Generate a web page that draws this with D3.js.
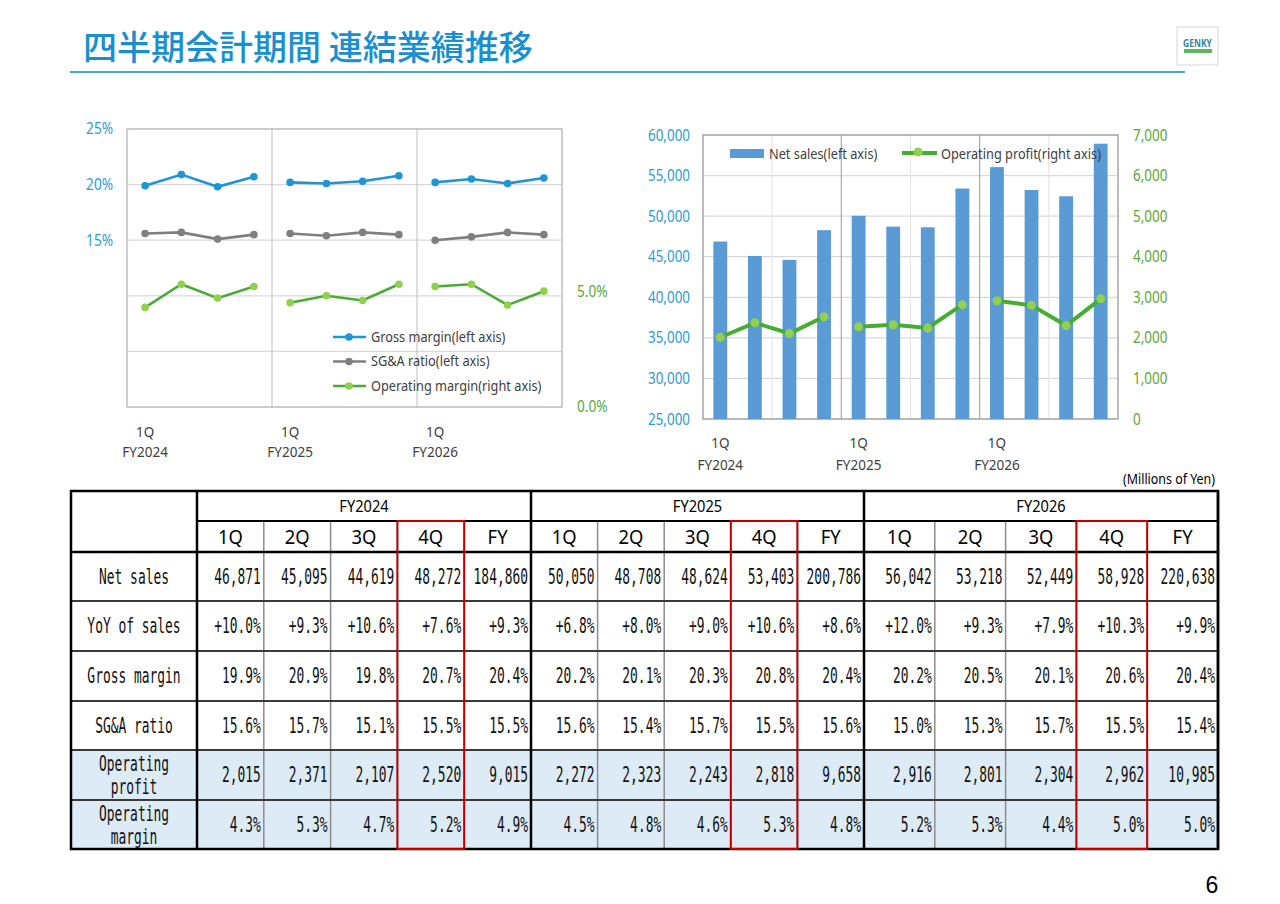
<!DOCTYPE html>
<html>
<head>
<meta charset="utf-8">
<script src="https://cdn.jsdelivr.net/npm/d3@7"></script>
<style>
  body { margin: 0; background: #fff; }
  svg { display: block; }
</style>
</head>
<body>
<div class="canvas"></div>
<script>
// ---- data ----
const quarters = ['1Q', '2Q', '3Q', '4Q'];
const fiscalYears = ['FY2024', 'FY2025', 'FY2026'];

const netSales   = [46871, 45095, 44619, 48272, 50050, 48708, 48624, 53403, 56042, 53218, 52449, 58928];
const netSalesFY = [184860, 200786, 220638];
const yoySales   = [10.0, 9.3, 10.6, 7.6, 6.8, 8.0, 9.0, 10.6, 12.0, 9.3, 7.9, 10.3];
const yoySalesFY = [9.3, 8.6, 9.9];
const grossMargin   = [19.9, 20.9, 19.8, 20.7, 20.2, 20.1, 20.3, 20.8, 20.2, 20.5, 20.1, 20.6];
const grossMarginFY = [20.4, 20.4, 20.4];
const sgaRatio   = [15.6, 15.7, 15.1, 15.5, 15.6, 15.4, 15.7, 15.5, 15.0, 15.3, 15.7, 15.5];
const sgaRatioFY = [15.5, 15.6, 15.4];
const opProfit   = [2015, 2371, 2107, 2520, 2272, 2323, 2243, 2818, 2916, 2801, 2304, 2962];
const opProfitFY = [9015, 9658, 10985];
const opMargin   = [4.3, 5.3, 4.7, 5.2, 4.5, 4.8, 4.6, 5.3, 5.2, 5.3, 4.4, 5.0];
const opMarginFY = [4.9, 4.8, 5.0];

const leftTicks = [15, 20, 25];
const rightTicks = [0, 5];
const salesTicks = [25000, 30000, 35000, 40000, 45000, 50000, 55000, 60000];
const profitTicks = [0, 1000, 2000, 3000, 4000, 5000, 6000, 7000];

const SANS = "'Noto Sans', sans-serif";
const MONO = "'DejaVu Sans Mono', 'Liberation Mono', monospace";
const blueTxt = '#2e9ad0', greenTxt = '#55a833';

// squeeze text horizontally around its own x (source font is a narrow one)
function condense(sel, k) {
  sel.each(function () {
    const t = d3.select(this);
    const x = +t.attr('x') || 0;
    t.attr('transform', `translate(${x * (1 - k)},0) scale(${k},1)`);
  });
}

const svg = d3.select('.canvas')
  .append('svg')
  .attr('width', 1280)
  .attr('height', 904);

// ---- title ----
svg.append('text')
  .attr('x', 83).attr('y', 60)
  .attr('font-family', "'Noto Sans CJK JP', sans-serif")
  .attr('font-size', 34).attr('font-weight', 500)
  .attr('fill', '#1a8fd0')
  .text('四半期会計期間 連結業績推移');

svg.append('line')
  .attr('x1', 70).attr('x2', 1185).attr('y1', 72).attr('y2', 72)
  .attr('stroke', '#4ba6c9').attr('stroke-width', 2);

// logo
const logo = svg.append('g');
logo.append('rect').attr('x', 1177).attr('y', 27).attr('width', 41).attr('height', 38)
  .attr('fill', '#fff').attr('stroke', '#d6d6d6');
logo.append('text').attr('x', 1197.5).attr('y', 47).attr('text-anchor', 'middle')
  .attr('font-family', SANS).attr('font-weight', 'bold').attr('font-size', 10)
  .attr('fill', '#2f86a8').text('GENKY').call(condense, 0.85);
logo.append('rect').attr('x', 1184).attr('y', 49).attr('width', 28).attr('height', 4)
  .attr('fill', '#5cb85c');

// ---- left chart : margins ----
const xL = d3.scaleBand().domain(d3.range(12)).range([127, 562]);
const cxL = i => xL(i) + xL.bandwidth() / 2;
const yL = d3.scaleLinear().domain([0, 25]).range([407, 129]);
const yR = d3.scaleLinear().domain([0, 12]).range([407, 129]);

const left = svg.append('g');

left.selectAll('.hgrid')
  .data(d3.range(0, 26, 5))
  .join('line')
  .attr('x1', 127).attr('x2', 562)
  .attr('y1', d => yL(d)).attr('y2', d => yL(d))
  .attr('stroke', '#d9d9d9').attr('stroke-width', 1.2);

left.selectAll('.vgrid')
  .data([4, 8])
  .join('line')
  .attr('x1', d => xL(d)).attr('x2', d => xL(d))
  .attr('y1', yL(25)).attr('y2', yL(0))
  .attr('stroke', '#c8c8c8').attr('stroke-width', 1.2);

left.append('rect')
  .attr('x', 127).attr('y', yL(25))
  .attr('width', 435).attr('height', yL(0) - yL(25))
  .attr('fill', 'none').attr('stroke', '#bfbfbf').attr('stroke-width', 1.5);

const axL = left.append('g')
  .attr('transform', 'translate(127,0)')
  .call(d3.axisLeft(yL).tickValues(leftTicks).tickSize(0).tickPadding(14).tickFormat(d => d + '%'));
const axR = left.append('g')
  .attr('transform', 'translate(562,0)')
  .call(d3.axisRight(yR).tickValues(rightTicks).tickSize(0).tickPadding(15).tickFormat(d => d.toFixed(1) + '%'));
axL.selectAll('text').attr('fill', blueTxt);
axR.selectAll('text').attr('fill', greenTxt);
[axL, axR].forEach(a => {
  a.select('.domain').remove();
  a.selectAll('text').attr('font-family', SANS).attr('font-size', 15.5).call(condense, 0.88);
});

left.selectAll('.q1')
  .data([0, 4, 8])
  .join('text')
  .attr('x', d => cxL(d)).attr('y', 437)
  .attr('text-anchor', 'middle')
  .attr('font-family', SANS).attr('font-size', 15).attr('fill', '#404040')
  .text('1Q').call(condense, 0.9);
left.selectAll('.fy')
  .data(fiscalYears)
  .join('text')
  .attr('x', (d, i) => cxL(i * 4)).attr('y', 457)
  .attr('text-anchor', 'middle')
  .attr('font-family', SANS).attr('font-size', 13.5).attr('fill', '#404040')
  .text(d => d);

const leftSeries = [
  {name: 'Gross margin(left axis)', values: grossMargin, y: yL, line: '#1f95d3', dot: '#1f95d3'},
  {name: 'SG&A ratio(left axis)', values: sgaRatio, y: yL, line: '#7f7f7f', dot: '#7f7f7f'},
  {name: 'Operating margin(right axis)', values: opMargin, y: yR, line: '#4aaa36', dot: '#8fd14f'}
];

leftSeries.forEach((s, k) => {
  const g = left.append('g');
  // lines are broken between fiscal years
  fiscalYears.forEach((fy, f) => {
    const pts = s.values.slice(f * 4, f * 4 + 4).map((v, q) => [cxL(f * 4 + q), s.y(v)]);
    g.append('path')
      .attr('d', d3.line()(pts))
      .attr('fill', 'none').attr('stroke', s.line).attr('stroke-width', 2.6);
  });
  g.selectAll('circle')
    .data(s.values)
    .join('circle')
    .attr('cx', (d, i) => cxL(i)).attr('cy', d => s.y(d))
    .attr('r', 3.8).attr('fill', s.dot);

  const ly = 337 + k * 24.5;
  g.append('line').attr('x1', 333).attr('x2', 366).attr('y1', ly).attr('y2', ly)
    .attr('stroke', s.line).attr('stroke-width', 2.6);
  g.append('circle').attr('cx', 349).attr('cy', ly).attr('r', 3.8).attr('fill', s.dot);
  g.append('text').attr('x', 371).attr('y', ly + 5)
    .attr('font-family', SANS).attr('font-size', 14.5).attr('fill', '#404040')
    .text(s.name).call(condense, 0.88);
});

// ---- right chart : net sales & operating profit ----
const xB = d3.scaleBand().domain(d3.range(12)).range([703, 1118]).paddingInner(0.6).paddingOuter(0.3);
const xC = d3.scaleBand().domain(d3.range(12)).range([703, 1118]);
const cxC = i => xC(i) + xC.bandwidth() / 2;
const yS = d3.scaleLinear().domain([25000, 60000]).range([419, 135]);
const yP = d3.scaleLinear().domain([0, 7000]).range([419, 135]);

const right = svg.append('g');

right.selectAll('.hgrid')
  .data(salesTicks)
  .join('line')
  .attr('x1', 703).attr('x2', 1118)
  .attr('y1', d => yS(d)).attr('y2', d => yS(d))
  .attr('stroke', '#d9d9d9').attr('stroke-width', 1.2);

right.selectAll('.vgrid')
  .data([2, 4, 6, 8, 10])
  .join('line')
  .attr('x1', d => xC(d)).attr('x2', d => xC(d))
  .attr('y1', 135).attr('y2', 419)
  .attr('stroke', d => d % 4 === 0 ? '#a9a9a9' : '#e6e6e6').attr('stroke-width', 1.2);

right.append('rect')
  .attr('x', 703).attr('y', 135).attr('width', 415).attr('height', 284)
  .attr('fill', 'none').attr('stroke', '#a6a6a6').attr('stroke-width', 1.5);

right.selectAll('.bar')
  .data(netSales)
  .join('rect')
  .attr('x', (d, i) => xB(i))
  .attr('width', xB.bandwidth())
  .attr('y', d => yS(d))
  .attr('height', d => yS(25000) - yS(d))
  .attr('fill', '#5b9bd5');

fiscalYears.forEach((fy, f) => {
  const pts = opProfit.slice(f * 4, f * 4 + 4).map((v, q) => [cxC(f * 4 + q), yP(v)]);
  right.append('path')
    .attr('d', d3.line()(pts))
    .attr('fill', 'none').attr('stroke', '#44ad32').attr('stroke-width', 4);
});
right.selectAll('.dot')
  .data(opProfit)
  .join('circle')
  .attr('cx', (d, i) => cxC(i)).attr('cy', d => yP(d))
  .attr('r', 4.5).attr('fill', '#92d050');

const axS = right.append('g')
  .attr('transform', 'translate(703,0)')
  .call(d3.axisLeft(yS).tickValues(salesTicks).tickSize(0).tickPadding(13).tickFormat(d3.format(',')));
const axP = right.append('g')
  .attr('transform', 'translate(1118,0)')
  .call(d3.axisRight(yP).tickValues(profitTicks).tickSize(0).tickPadding(15).tickFormat(d3.format(',')));
axS.selectAll('text').attr('fill', blueTxt);
axP.selectAll('text').attr('fill', greenTxt);
[axS, axP].forEach(a => {
  a.select('.domain').remove();
  a.selectAll('text').attr('font-family', SANS).attr('font-size', 16).call(condense, 0.84);
});

right.selectAll('.q1')
  .data([0, 4, 8])
  .join('text')
  .attr('x', d => cxC(d)).attr('y', 448)
  .attr('text-anchor', 'middle')
  .attr('font-family', SANS).attr('font-size', 15).attr('fill', '#404040')
  .text('1Q').call(condense, 0.9);
right.selectAll('.fy')
  .data(fiscalYears)
  .join('text')
  .attr('x', (d, i) => cxC(i * 4)).attr('y', 470)
  .attr('text-anchor', 'middle')
  .attr('font-family', SANS).attr('font-size', 13.5).attr('fill', '#404040')
  .text(d => d);

// legend
right.append('rect').attr('x', 730).attr('y', 149).attr('width', 34).attr('height', 9).attr('fill', '#5b9bd5');
right.append('text').attr('x', 769).attr('y', 159)
  .attr('font-family', SANS).attr('font-size', 14.5).attr('fill', '#404040')
  .text('Net sales(left axis)').call(condense, 0.88);
right.append('line').attr('x1', 902).attr('x2', 937).attr('y1', 153).attr('y2', 153)
  .attr('stroke', '#44ad32').attr('stroke-width', 4);
right.append('circle').attr('cx', 918).attr('cy', 152).attr('r', 4.5).attr('fill', '#92d050');
right.append('text').attr('x', 941).attr('y', 159)
  .attr('font-family', SANS).attr('font-size', 14.5).attr('fill', '#404040')
  .text('Operating profit(right axis)').call(condense, 0.88);

svg.append('text').attr('x', 1215).attr('y', 484).attr('text-anchor', 'end')
  .attr('font-family', SANS).attr('font-size', 13.5).attr('fill', '#000')
  .text('(Millions of Yen)').call(condense, 0.92);

// ---- table ----
const pct = d => d.toFixed(1) + '%';
const tableRows = [
  {label: ['Net sales'], q: netSales, fy: netSalesFY, fmt: d3.format(',')},
  {label: ['YoY of sales'], q: yoySales, fy: yoySalesFY, fmt: d => '+' + pct(d)},
  {label: ['Gross margin'], q: grossMargin, fy: grossMarginFY, fmt: pct},
  {label: ['SG&A ratio'], q: sgaRatio, fy: sgaRatioFY, fmt: pct},
  {label: ['Operating', 'profit'], q: opProfit, fy: opProfitFY, fmt: d3.format(',')},
  {label: ['Operating', 'margin'], q: opMargin, fy: opMarginFY, fmt: pct}
];

const tLeft = 71, tLabel = 197, tRight = 1218;
const groupEdges = [197, 531, 864, 1218];
const colEdges = [];
groupEdges.slice(0, 3).forEach((g0, f) => {
  const w = (groupEdges[f + 1] - g0) / 5;
  for (let c = 0; c < 5; c++) colEdges.push([g0 + c * w, g0 + (c + 1) * w]);
});
const rowEdges = [491, 521, 552, 601, 651, 701, 750, 800, 849];

const table = svg.append('g');

// shaded rows
table.append('rect')
  .attr('x', tLeft).attr('y', rowEdges[6])
  .attr('width', tRight - tLeft).attr('height', rowEdges[8] - rowEdges[6])
  .attr('fill', '#ddebf7');

function monoText(x, y, str, anchor) {
  table.append('text')
    .attr('transform', `translate(${x},${y}) scale(0.63,1)`)
    .attr('text-anchor', anchor)
    .attr('font-family', MONO).attr('font-size', 20.5).attr('fill', '#111')
    .text(str);
}

// header
fiscalYears.forEach((fy, f) => {
  table.append('text')
    .attr('x', (groupEdges[f] + groupEdges[f + 1]) / 2).attr('y', 512)
    .attr('text-anchor', 'middle')
    .attr('font-family', SANS).attr('font-size', 17).text(fy).call(condense, 0.86);
  quarters.concat(['FY']).forEach((q, c) => {
    const e = colEdges[f * 5 + c];
    table.append('text')
      .attr('x', (e[0] + e[1]) / 2).attr('y', 544)
      .attr('text-anchor', 'middle')
      .attr('font-family', SANS).attr('font-size', 20).text(q).call(condense, 0.92);
  });
});

// body
tableRows.forEach((r, k) => {
  const top = rowEdges[k + 2], bot = rowEdges[k + 3], mid = (top + bot) / 2;
  if (r.label.length === 1) {
    monoText(134, mid + 7, r.label[0], 'middle');
  } else {
    monoText(134, mid - 4, r.label[0], 'middle');
    monoText(134, mid + 19, r.label[1], 'middle');
  }
  fiscalYears.forEach((fy, f) => {
    const vals = r.q.slice(f * 4, f * 4 + 4).concat([r.fy[f]]);
    vals.forEach((v, c) => {
      const e = colEdges[f * 5 + c];
      monoText(e[1] - 3, mid + 7, r.fmt(v), 'end');
    });
  });
});

// grid lines
const hl = (x1, x2, y, w, col) => table.append('line')
  .attr('x1', x1).attr('x2', x2).attr('y1', y).attr('y2', y)
  .attr('stroke', col).attr('stroke-width', w);
const vl = (x, y1, y2, w, col) => table.append('line')
  .attr('x1', x).attr('x2', x).attr('y1', y1).attr('y2', y2)
  .attr('stroke', col).attr('stroke-width', w);

colEdges.forEach((e, i) => {
  if (i % 5 !== 4) vl(e[1], rowEdges[1], rowEdges[8], 1.5, '#8c8c8c');
});
rowEdges.slice(3, 8).forEach(y => hl(tLeft, tRight, y, 1.8, '#3a3a3a'));
hl(tLabel, tRight, rowEdges[1], 2, '#000');
hl(tLeft, tRight, rowEdges[2], 2.5, '#000');
groupEdges.forEach(x => vl(x, rowEdges[0], rowEdges[8], 2.5, '#000'));
table.append('rect')
  .attr('x', tLeft).attr('y', rowEdges[0])
  .attr('width', tRight - tLeft).attr('height', rowEdges[8] - rowEdges[0])
  .attr('fill', 'none').attr('stroke', '#000').attr('stroke-width', 2.5);

// highlight 4Q columns
fiscalYears.forEach((fy, f) => {
  const e = colEdges[f * 5 + 3];
  table.append('rect')
    .attr('x', e[0]).attr('y', rowEdges[1])
    .attr('width', e[1] - e[0]).attr('height', rowEdges[8] - rowEdges[1])
    .attr('fill', 'none').attr('stroke', '#c00000').attr('stroke-width', 2);
});

// page number
svg.append('text').attr('x', 1212).attr('y', 893).attr('text-anchor', 'middle')
  .attr('font-family', "'Liberation Sans', sans-serif").attr('font-size', 23)
  .text('6');
</script>
</body>
</html>
